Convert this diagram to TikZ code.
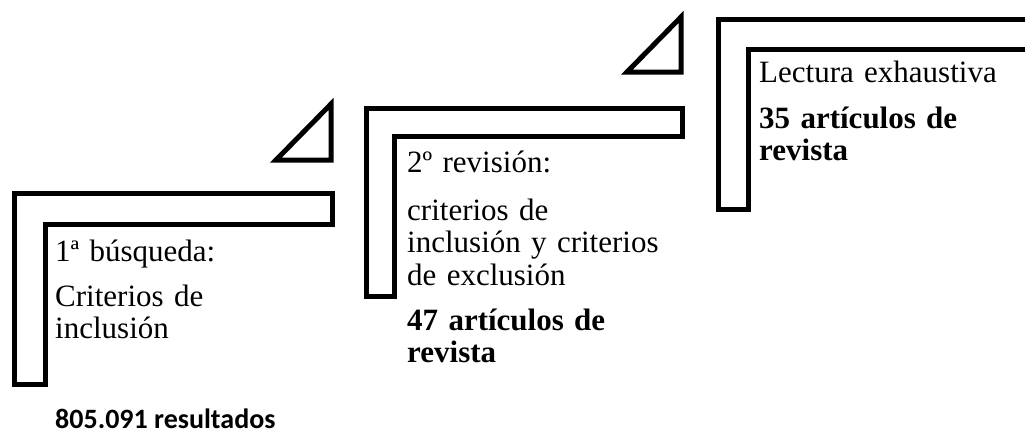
\documentclass[tikz,border=0pt]{standalone}
\usepackage{fontspec}
\setmainfont{Liberation Serif}
\newfontfamily\calibri{Carlito}
\usetikzlibrary{positioning}

\begin{document}
\begin{tikzpicture}[x=1pt, y=-1pt]

        % Styles
        \tikzstyle{stepL} = [draw, line width=5pt, line join=miter]
        \tikzstyle{flag} = [draw, line width=5pt, line join=miter]
        \tikzstyle{steptext} = [anchor=base west, inner sep=0pt, text width=300pt, align=left, font=\fontsize{31}{32.5}\selectfont]
        \tikzstyle{counttext} = [steptext, font=\fontsize{31}{32.5}\selectfont\bfseries]
        \tikzstyle{totaltext} = [anchor=base west, inner sep=0pt, font=\calibri\bfseries\fontsize{28}{32}\selectfont]

        \useasboundingbox (0,0) rectangle (1025,434);

        % Steps
        \draw[stepL] (14,193) -- (332,193) -- (332,224) -- (45,224) -- (45,384) -- (14,384) -- cycle;
        \draw[flag] (331,104) -- (331,160) -- (276,160) -- cycle;

        \draw[stepL] (366,108) -- (682,108) -- (682,136) -- (394,136) -- (394,296) -- (366,296) -- cycle;
        \draw[flag] (681,17) -- (681,72) -- (627,72) -- cycle;

        \draw[stepL] (718,19) -- (1036,19) -- (1036,49) -- (748,49) -- (748,209) -- (718,209) -- cycle;

        % Texts
        \node[steptext] (busqueda) at (55,261) {1ª búsqueda:};
        \node[steptext] (inclusion) at (55,306) {Criterios de\\inclusión};
        \node[totaltext] (resultados) at (55,428) {805.091 resultados};

        \node[steptext] (revision) at (407,172) {2º revisión:};
        \node[steptext] (criterios) at (407,220) {criterios de\\inclusión y criterios\\de exclusión};
        \node[counttext] (art47) at (407,330) {47 artículos de\\revista};

        \node[steptext] (lectura) at (759,82) {Lectura exhaustiva};
        \node[counttext] (art35) at (759,128) {35 artículos de\\revista};

\end{tikzpicture}
\end{document}
